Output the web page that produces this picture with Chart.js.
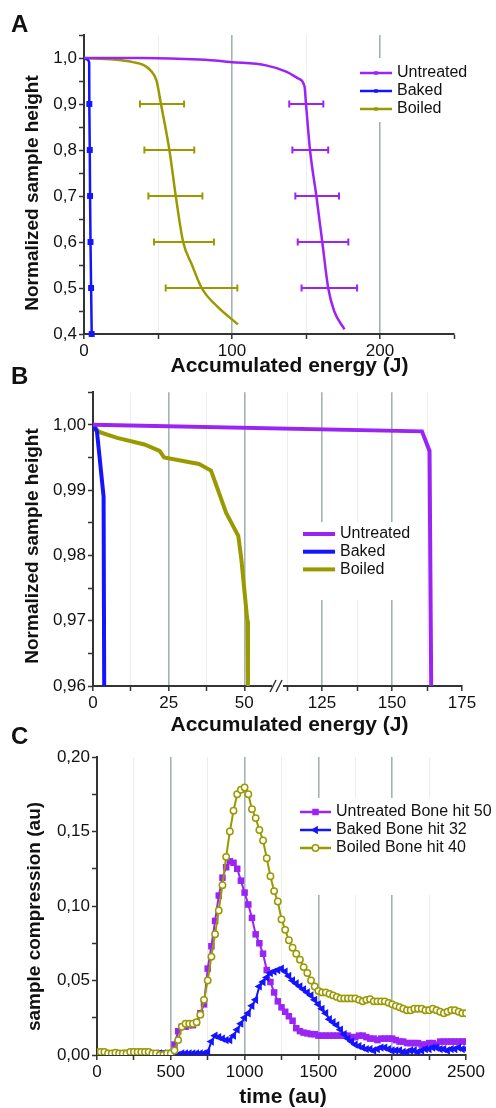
<!DOCTYPE html>
<html>
<head>
<meta charset="utf-8">
<script src="https://cdn.jsdelivr.net/npm/chart.js@4.4.0/dist/chart.umd.min.js"></script>
<style>
  body { margin: 0; background: #fff; width: 496px; height: 1108px; position: relative; overflow: hidden; }
  canvas { position: absolute; left: 0; }
  .panel { position: absolute; left: 11px; font: bold 24px/24px "Liberation Sans", Arial, sans-serif; color: #111; }
</style>
</head>
<body>
<canvas id="chartA" width="496" height="380" style="top:0px"></canvas>
<canvas id="chartB" width="496" height="360" style="top:380px"></canvas>
<canvas id="chartC" width="496" height="368" style="top:740px"></canvas>
<div class="panel" style="top:12px">A</div>
<div class="panel" style="top:364px">B</div>
<div class="panel" style="top:724px">C</div>
<script>
// ---- panel A: height vs accumulated energy, with error bars
var energyUntreatedA = [0, 40, 78, 100, 123, 137, 145, 149, 150, 152.7, 157, 161, 165, 169, 176];
var heightUntreatedA = [1.0, 1.0, 0.9965, 0.991, 0.984, 0.970, 0.955, 0.938, 0.9, 0.8, 0.7, 0.6, 0.5, 0.45, 0.41];
var energyBakedA = [0, 2, 3.5, 3.6, 3.9, 4.1, 4.4, 4.8, 5.2];
var heightBakedA = [1.0, 0.997, 0.99, 0.9, 0.8, 0.7, 0.6, 0.5, 0.4];
var energyBoiledA = [0, 20, 33, 40, 45, 49, 52, 57.7, 62, 67, 73, 79.5, 90, 104];
var heightBoiledA = [1.0, 0.9965, 0.991, 0.985, 0.973, 0.951, 0.9, 0.8, 0.7, 0.6, 0.55, 0.5, 0.46, 0.421];
var errHeightA = [0.9, 0.8, 0.7, 0.6, 0.5];
var untreatedErrLoA = [138.7, 140.8, 142.8, 144.4, 147];
var untreatedErrHiA = [161.7, 165, 172.3, 178.6, 184.5];
var boiledErrLoA = [37.8, 40.8, 43.5, 47.3, 55.2];
var boiledErrHiA = [67.6, 74.5, 80, 87.8, 103.6];

// ---- panel B: zoom on the top of the curves, broken x axis
var breakB = [61.8, 110];   // axis jumps from 61.8 J to 110 J
var breakSqueezeB = 0.925;  // right part is drawn a bit narrower
var xTicksB = [0, 12.5, 25, 37.5, 50, 112.5, 125, 137.5, 150, 162.5, 175];
var energyUntreatedB = [0, 160.7, 163.4, 164];
var heightUntreatedB = [1.0, 0.999, 0.996, 0.96];
var energyBakedB = [0, 1.3, 3.5, 3.7];
var heightBakedB = [1.0, 0.999, 0.989, 0.96];
var energyBoiledB = [0, 2, 8, 17, 22, 23.5, 35, 39, 44, 48, 49, 51, 51.2];
var heightBoiledB = [1.0, 0.9989, 0.998, 0.997, 0.996, 0.995, 0.994, 0.993, 0.9865, 0.983, 0.9795, 0.97, 0.96];

// ---- panel C: compression over time
var timeC = [0, 25, 50, 75, 100, 125, 150, 175, 200, 225, 250, 275, 300, 325, 350, 375, 400, 425, 450, 475,
  500, 525, 550, 575, 600, 625, 650, 675, 700, 725, 750, 775, 800, 825, 850, 875, 900, 925, 950, 975,
  1000, 1025, 1050, 1075, 1100, 1125, 1150, 1175, 1200, 1225, 1250, 1275, 1300, 1325, 1350, 1375, 1400, 1425, 1450, 1475,
  1500, 1525, 1550, 1575, 1600, 1625, 1650, 1675, 1700, 1725, 1750, 1775, 1800, 1825, 1850, 1875, 1900, 1925, 1950, 1975,
  2000, 2025, 2050, 2075, 2100, 2125, 2150, 2175, 2200, 2225, 2250, 2275, 2300, 2325, 2350, 2375, 2400, 2425, 2450, 2475, 2500];
var untreatedC = [0.001, 0.001, 0.000, 0.001, 0.001, 0.000, 0.001, 0.001, 0.001, 0.000, 0.001, 0.001, 0.001, 0.001, 0.000, 0.001, 0.001, 0.001, 0.001, 0.001,
  0.001, 0.007, 0.016, 0.019, 0.019, 0.020, 0.020, 0.022, 0.028, 0.034, 0.058, 0.073, 0.090, 0.107, 0.119, 0.126, 0.130, 0.129, 0.125, 0.117,
  0.109, 0.101, 0.092, 0.081, 0.075, 0.068, 0.057, 0.049, 0.042, 0.036, 0.032, 0.029, 0.026, 0.023, 0.018, 0.016, 0.015, 0.0145, 0.014, 0.014,
  0.013, 0.013, 0.013, 0.013, 0.013, 0.013, 0.013, 0.013, 0.013, 0.012, 0.012, 0.013, 0.013, 0.012, 0.011, 0.011, 0.010, 0.011, 0.011, 0.011,
  0.011, 0.010, 0.009, 0.009, 0.008, 0.008, 0.008, 0.008, 0.007, 0.007, 0.008, 0.008, 0.007, 0.009, 0.009, 0.009, 0.009, 0.009, 0.009, 0.009, 0.009];
var bakedC = [0.000, 0.000, 0.001, 0.000, 0.000, 0.001, 0.000, 0.001, 0.001, 0.000, 0.000, 0.001, 0.000, 0.001, 0.001, 0.000, 0.001, 0.001, 0.001, 0.001,
  0.001, 0.001, 0.000, 0.001, 0.001, 0.001, 0.001, 0.001, 0.001, 0.001, 0.002, 0.009, 0.013, 0.012, 0.011, 0.010, 0.010, 0.013, 0.017, 0.021,
  0.025, 0.028, 0.033, 0.037, 0.046, 0.049, 0.052, 0.055, 0.056, 0.057, 0.058, 0.056, 0.053, 0.050, 0.048, 0.046, 0.044, 0.042, 0.040, 0.037,
  0.034, 0.031, 0.028, 0.024, 0.022, 0.020, 0.017, 0.014, 0.011, 0.009, 0.007, 0.006, 0.005, 0.004, 0.004, 0.003, 0.004, 0.005, 0.005, 0.004,
  0.003, 0.003, 0.003, 0.002, 0.002, 0.003, 0.003, 0.002, 0.003, 0.004, 0.004, 0.005, 0.005, 0.004, 0.004, 0.003, 0.004, 0.004, 0.005, 0.004, 0.004];
var boiledC = [0.002, 0.002, 0.002, 0.001, 0.001, 0.0015, 0.001, 0.001, 0.001, 0.002, 0.002, 0.002, 0.002, 0.002, 0.002, 0.001, 0.001, 0.000, 0.000, 0.001,
  0.001, 0.003, 0.010, 0.019, 0.021, 0.021, 0.021, 0.022, 0.027, 0.037, 0.050, 0.066, 0.081, 0.097, 0.114, 0.133, 0.150, 0.164, 0.175, 0.178,
  0.1795, 0.175, 0.165, 0.159, 0.151, 0.144, 0.132, 0.120, 0.110, 0.103, 0.091, 0.084, 0.077, 0.072, 0.068, 0.064, 0.059, 0.055, 0.050, 0.046,
  0.043, 0.042, 0.042, 0.041, 0.040, 0.039, 0.038, 0.038, 0.038, 0.038, 0.038, 0.037, 0.036, 0.037, 0.0375, 0.036, 0.036, 0.036, 0.036, 0.035,
  0.034, 0.033, 0.032, 0.031, 0.030, 0.030, 0.031, 0.031, 0.031, 0.030, 0.030, 0.031, 0.030, 0.029, 0.028, 0.029, 0.030, 0.030, 0.029, 0.028, 0.028];

var purple = '#9a24f6';
var blue = '#1414ff';
var olive = '#9a9a00';
var axisColor = '#333';
var majorGrid = '#a4b2b2';
var minorGrid = 'rgba(0,0,0,0.07)';
var fontFamily = '"Liberation Sans", Arial, sans-serif';

Chart.defaults.font.family = fontFamily;
Chart.defaults.color = '#111';
Chart.defaults.animation = false;

function pairs(xs, ys) {
  return xs.map(function(x, i) { return {x: x, y: ys[i]}; });
}

// one horizontal bar per height, split by a null point
function errorBars(lo, hi, h) {
  var pts = [];
  h.forEach(function(y, i) {
    pts.push({x: lo[i], y: y}, {x: hi[i], y: y}, {x: hi[i], y: null});
  });
  return pts;
}

function isMultiple(v, step) {
  var r = v / step;
  return Math.abs(r - Math.round(r)) < 1e-6;
}

// linear scale with a gap cut out of it (panel B)
class BrokenScale extends Chart.LinearScale {
  squeeze(v) {
    return v <= breakB[0] ? v : breakB[0] + (v - breakB[1]) * breakSqueezeB;
  }
  getPixelForValue(v) {
    if (v === null || isNaN(v)) return NaN;
    var a = this.squeeze(this.min), b = this.squeeze(this.max);
    return this.getPixelForDecimal((this.squeeze(v) - a) / (b - a));
  }
  getValueForPixel(p) {
    var a = this.squeeze(this.min), b = this.squeeze(this.max);
    var u = a + this.getDecimalForPixel(p) * (b - a);
    return u <= breakB[0] ? u : breakB[1] + (u - breakB[0]) / breakSqueezeB;
  }
}
BrokenScale.id = 'broken';
BrokenScale.defaults = Chart.LinearScale.defaults;
Chart.register(BrokenScale);

function makeScales(p) {
  var x = {
    type: p.xType || 'linear',
    min: p.xMin, max: p.xMax,
    afterFit: function(s) { s.height = p.bottom; },
    border: {color: axisColor, width: 2},
    grid: {
      color: function(c) {
        var v = c.tick ? c.tick.value : null;
        if (v === null || v <= p.xMin + 1e-9 || v >= p.xMax - 1e-9) return 'rgba(0,0,0,0)';
        return isMultiple(v, p.xLabelStep) ? majorGrid : minorGrid;
      },
      lineWidth: function(c) {
        var v = c.tick ? c.tick.value : 0;
        return isMultiple(v, p.xLabelStep) ? 1.6 : 1;
      },
      tickColor: axisColor, tickLength: 5, tickWidth: 1.5
    },
    ticks: {
      stepSize: p.xStep, autoSkip: false, maxRotation: 0, padding: p.xPad,
      font: {size: 17}, color: '#111',
      callback: function(v) { return isMultiple(v, p.xLabelStep) ? String(v) : ''; }
    }
  };
  if (p.xTicks) {
    x.afterBuildTicks = function(s) { s.ticks = p.xTicks.map(function(v) { return {value: v}; }); };
  }
  var y = {
    type: 'linear',
    min: p.yMin, max: p.yMax,
    afterFit: function(s) { s.width = p.left; },
    border: {color: axisColor, width: 2},
    grid: {drawOnChartArea: false, tickColor: axisColor, tickLength: 5, tickWidth: 1.5},
    ticks: {
      stepSize: p.yStep, autoSkip: false, padding: p.yPad,
      font: {size: 17}, color: '#111',
      callback: function(v) { return isMultiple(v, p.yLabelStep) ? v.toFixed(p.yDigits).replace('.', ',') : ''; }
    }
  };
  return {x: x, y: y};
}

// legend drawn inside the plot on a white box
var boxLegend = {
  id: 'boxLegend',
  beforeDatasetsDraw: function(chart, args, o) {
    var c = chart.ctx;
    c.save();
    c.fillStyle = '#fff';
    c.fillRect(o.box[0], o.box[1], o.box[2], o.box[3]);
    c.restore();
  },
  afterDatasetsDraw: function(chart, args, o) {
    var c = chart.ctx;
    c.save();
    c.font = o.fontSize + 'px ' + fontFamily;
    c.textBaseline = 'middle';
    c.textAlign = 'left';
    o.items.forEach(function(label, i) {
      var ds = chart.data.datasets.find(function(d) { return d.label === label; });
      var y = o.y + i * o.rowGap;
      c.strokeStyle = ds.borderColor;
      c.lineWidth = o.lineWidth;
      c.beginPath(); c.moveTo(o.x0, y); c.lineTo(o.x1, y); c.stroke();
      if (ds.legendPoint) {
        c.fillStyle = ds.legendPoint.fill || ds.borderColor;
        c.strokeStyle = ds.borderColor;
        c.lineWidth = ds.legendPoint.borderWidth || 0;
        Chart.helpers.drawPoint(c, ds.legendPoint, (o.x0 + o.x1) / 2, y);
      }
      c.fillStyle = '#111';
      c.fillText(label, o.textX, y);
    });
    c.restore();
  }
};

// axis titles placed where the original figure has them
var axisTitles = {
  id: 'axisTitles',
  afterDraw: function(chart, args, o) {
    var c = chart.ctx;
    c.save();
    c.fillStyle = '#111';
    c.textAlign = 'center';
    c.textBaseline = 'middle';
    c.font = 'bold 21px ' + fontFamily;
    c.fillText(o.x.text, o.x.cx, o.x.cy);
    c.translate(o.y.cx, o.y.cy);
    c.rotate(-Math.PI / 2);
    c.font = 'bold 19px ' + fontFamily;
    c.fillText(o.y.text, 0, 0);
    c.restore();
  }
};

// the // mark on the broken axis of panel B
var axisBreak = {
  id: 'axisBreak',
  afterDraw: function(chart) {
    var c = chart.ctx;
    var px = chart.scales.x.getPixelForValue(breakB[0]);
    var y = chart.chartArea.bottom;
    c.save();
    c.fillStyle = '#fff';
    c.fillRect(px - 8, y - 2, 11, 4);
    c.strokeStyle = axisColor;
    c.lineWidth = 1.5;
    c.beginPath();
    c.moveTo(px - 10, y + 6); c.lineTo(px - 4, y - 6);
    c.moveTo(px - 4, y + 6); c.lineTo(px + 2, y - 6);
    c.stroke();
    c.restore();
  }
};

var baseOptions = {
  responsive: false,
  events: [],
  plugins: {legend: {display: false}, tooltip: {enabled: false}}
};

function withOptions(extra) {
  return Object.assign({}, baseOptions, extra, {plugins: Object.assign({}, baseOptions.plugins, extra.plugins)});
}

// ---------------- chart A
new Chart(document.getElementById('chartA'), {
  type: 'line',
  data: {
    datasets: [
      {label: 'Untreated', data: pairs(energyUntreatedA, heightUntreatedA), borderColor: purple, borderWidth: 2.5,
        pointRadius: 0, cubicInterpolationMode: 'monotone', legendPoint: {pointStyle: 'rect', radius: 2.5}},
      {label: 'Baked', data: pairs(energyBakedA, heightBakedA), borderColor: blue, borderWidth: 2.5,
        pointStyle: 'rect', pointBackgroundColor: blue, pointBorderWidth: 0, clip: false,
        pointRadius: function(c) { return c.raw && c.raw.y <= 0.9 + 1e-9 ? 4.2 : 0; },
        cubicInterpolationMode: 'monotone', legendPoint: {pointStyle: 'rect', radius: 2.5}},
      {label: 'Boiled', data: pairs(energyBoiledA, heightBoiledA), borderColor: olive, borderWidth: 2.5,
        pointRadius: 0, cubicInterpolationMode: 'monotone', legendPoint: {pointStyle: 'rect', radius: 2.5}},
      {label: 'Untreated SD', data: errorBars(untreatedErrLoA, untreatedErrHiA, errHeightA), borderColor: purple, borderWidth: 2,
        pointStyle: 'line', pointRotation: 90, pointRadius: 3.5, pointBorderWidth: 2, pointBorderColor: purple},
      {label: 'Boiled SD', data: errorBars(boiledErrLoA, boiledErrHiA, errHeightA), borderColor: olive, borderWidth: 2,
        pointStyle: 'line', pointRotation: 90, pointRadius: 3.5, pointBorderWidth: 2, pointBorderColor: olive}
    ]
  },
  options: withOptions({
    layout: {padding: {left: 0, top: 35, right: 42, bottom: 0}},
    scales: makeScales({xMin: 0, xMax: 250, xStep: 50, xLabelStep: 100, xPad: 2, bottom: 46,
      yMin: 0.4, yMax: 1.05, yStep: 0.05, yLabelStep: 0.1, yDigits: 1, yPad: 2, left: 84}),
    plugins: {
      boxLegend: {items: ['Untreated', 'Baked', 'Boiled'], box: [356, 58, 114, 64], y: 73, rowGap: 18,
        x0: 360, x1: 392, textX: 397, lineWidth: 2.5, fontSize: 16},
      axisTitles: {x: {text: 'Accumulated energy (J)', cx: 289.5, cy: 366},
        y: {text: 'Normalized sample height', cx: 33, cy: 193}}
    }
  }),
  plugins: [boxLegend, axisTitles]
});

// ---------------- chart B
new Chart(document.getElementById('chartB'), {
  type: 'line',
  data: {
    datasets: [
      {label: 'Untreated', data: pairs(energyUntreatedB, heightUntreatedB), borderColor: purple, borderWidth: 4, pointRadius: 0},
      {label: 'Baked', data: pairs(energyBakedB, heightBakedB), borderColor: blue, borderWidth: 4, pointRadius: 0},
      {label: 'Boiled', data: pairs(energyBoiledB, heightBoiledB), borderColor: olive, borderWidth: 4, pointRadius: 0}
    ]
  },
  options: withOptions({
    layout: {padding: {left: 0, top: 7, right: 34, bottom: 0}},
    scales: makeScales({xType: 'broken', xMin: 0, xMax: 175, xTicks: xTicksB, xLabelStep: 25, xPad: 2, bottom: 54,
      yMin: 0.96, yMax: 1.005, yStep: 0.005, yLabelStep: 0.01, yDigits: 2, yPad: 2, left: 93}),
    plugins: {
      boxLegend: {items: ['Untreated', 'Baked', 'Boiled'], box: [298, 142, 120, 78], y: 154, rowGap: 17.7,
        x0: 303, x1: 335, textX: 340, lineWidth: 4, fontSize: 16},
      axisTitles: {x: {text: 'Accumulated energy (J)', cx: 289.5, cy: 345},
        y: {text: 'Normalized sample height', cx: 33, cy: 166}}
    }
  }),
  plugins: [boxLegend, axisTitles, axisBreak]
});

// ---------------- chart C
new Chart(document.getElementById('chartC'), {
  type: 'line',
  data: {
    datasets: [
      {label: 'Untreated Bone hit 50', data: pairs(timeC, untreatedC), borderColor: purple, borderWidth: 2, order: 3,
        pointStyle: 'rect', pointRadius: 4.6, pointBackgroundColor: purple, pointBorderWidth: 0,
        legendPoint: {pointStyle: 'rect', radius: 4.6}},
      {label: 'Baked Bone hit 32', data: pairs(timeC, bakedC), borderColor: blue, borderWidth: 2, order: 2,
        pointStyle: 'triangle', pointRotation: -90, pointRadius: 4.8, pointBackgroundColor: blue, pointBorderWidth: 0,
        legendPoint: {pointStyle: 'triangle', rotation: -90, radius: 4.8}},
      {label: 'Boiled Bone hit 40', data: pairs(timeC, boiledC), borderColor: olive, borderWidth: 2, order: 1,
        pointStyle: 'circle', pointRadius: 3.2, pointBackgroundColor: '#fff', pointBorderColor: olive, pointBorderWidth: 1.5,
        legendPoint: {pointStyle: 'circle', radius: 3.2, borderWidth: 1.5, fill: '#fff'}}
    ]
  },
  options: withOptions({
    layout: {padding: {left: 0, top: 17, right: 30, bottom: 0}},
    scales: makeScales({xMin: 0, xMax: 2500, xStep: 250, xLabelStep: 500, xPad: 2, bottom: 53,
      yMin: 0, yMax: 0.2, yStep: 0.025, yLabelStep: 0.05, yDigits: 2, yPad: 2, left: 97}),
    plugins: {
      boxLegend: {items: ['Untreated Bone hit 50', 'Baked Bone hit 32', 'Boiled Bone hit 40'], box: [296, 58, 200, 97],
        y: 72, rowGap: 18, x0: 300, x1: 331, textX: 336, lineWidth: 2.5, fontSize: 16},
      axisTitles: {x: {text: 'time (au)', cx: 283, cy: 357},
        y: {text: 'sample compression (au)', cx: 35, cy: 176.5}}
    }
  }),
  plugins: [boxLegend, axisTitles]
});
</script>
</body>
</html>
